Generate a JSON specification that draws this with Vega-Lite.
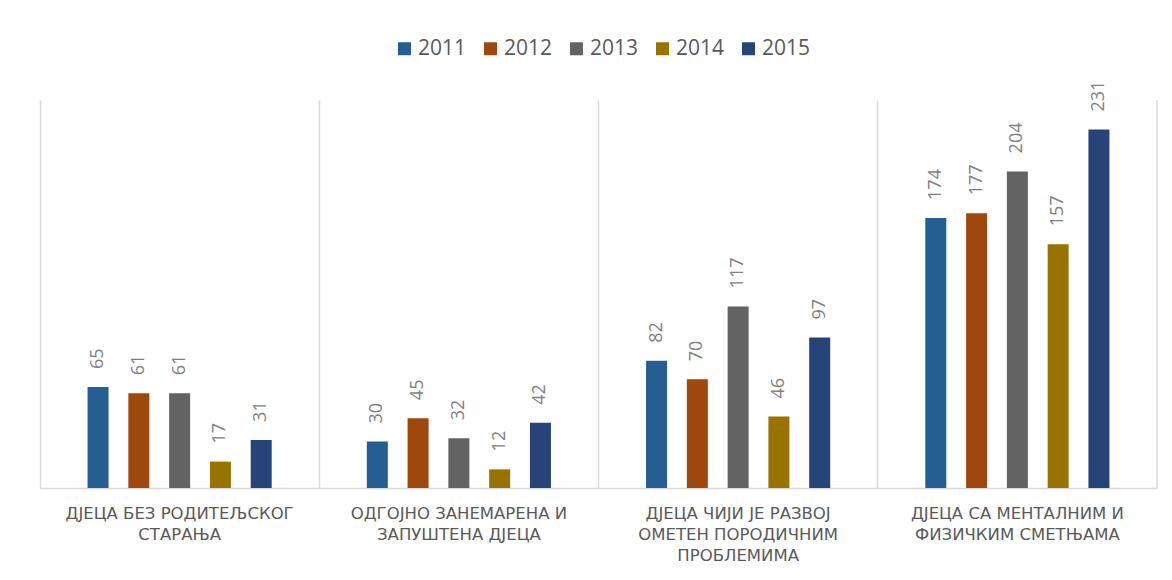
{
  "$schema": "https://vega.github.io/schema/vega-lite/v6.json",
  "width": 1117,
  "height": 388,
  "autosize": {"type": "none"},
  "padding": {"left": 40, "top": 100, "right": 15, "bottom": 92},
  "background": "white",
  "config": {
    "view": {"stroke": null},
    "font": "Open Sans"
  },
  "data": {
    "values": [
      {"cat": "ДЈЕЦА БЕЗ РОДИТЕЉСКОГ СТАРАЊА", "year": "2011", "value": 65},
      {"cat": "ДЈЕЦА БЕЗ РОДИТЕЉСКОГ СТАРАЊА", "year": "2012", "value": 61},
      {"cat": "ДЈЕЦА БЕЗ РОДИТЕЉСКОГ СТАРАЊА", "year": "2013", "value": 61},
      {"cat": "ДЈЕЦА БЕЗ РОДИТЕЉСКОГ СТАРАЊА", "year": "2014", "value": 17},
      {"cat": "ДЈЕЦА БЕЗ РОДИТЕЉСКОГ СТАРАЊА", "year": "2015", "value": 31},
      {"cat": "ОДГОЈНО ЗАНЕМАРЕНА И ЗАПУШТЕНА ДЈЕЦА", "year": "2011", "value": 30},
      {"cat": "ОДГОЈНО ЗАНЕМАРЕНА И ЗАПУШТЕНА ДЈЕЦА", "year": "2012", "value": 45},
      {"cat": "ОДГОЈНО ЗАНЕМАРЕНА И ЗАПУШТЕНА ДЈЕЦА", "year": "2013", "value": 32},
      {"cat": "ОДГОЈНО ЗАНЕМАРЕНА И ЗАПУШТЕНА ДЈЕЦА", "year": "2014", "value": 12},
      {"cat": "ОДГОЈНО ЗАНЕМАРЕНА И ЗАПУШТЕНА ДЈЕЦА", "year": "2015", "value": 42},
      {"cat": "ДЈЕЦА ЧИЈИ ЈЕ РАЗВОЈ ОМЕТЕН ПОРОДИЧНИМ ПРОБЛЕМИМА", "year": "2011", "value": 82},
      {"cat": "ДЈЕЦА ЧИЈИ ЈЕ РАЗВОЈ ОМЕТЕН ПОРОДИЧНИМ ПРОБЛЕМИМА", "year": "2012", "value": 70},
      {"cat": "ДЈЕЦА ЧИЈИ ЈЕ РАЗВОЈ ОМЕТЕН ПОРОДИЧНИМ ПРОБЛЕМИМА", "year": "2013", "value": 117},
      {"cat": "ДЈЕЦА ЧИЈИ ЈЕ РАЗВОЈ ОМЕТЕН ПОРОДИЧНИМ ПРОБЛЕМИМА", "year": "2014", "value": 46},
      {"cat": "ДЈЕЦА ЧИЈИ ЈЕ РАЗВОЈ ОМЕТЕН ПОРОДИЧНИМ ПРОБЛЕМИМА", "year": "2015", "value": 97},
      {"cat": "ДЈЕЦА СА МЕНТАЛНИМ И ФИЗИЧКИМ СМЕТЊАМА", "year": "2011", "value": 174},
      {"cat": "ДЈЕЦА СА МЕНТАЛНИМ И ФИЗИЧКИМ СМЕТЊАМА", "year": "2012", "value": 177},
      {"cat": "ДЈЕЦА СА МЕНТАЛНИМ И ФИЗИЧКИМ СМЕТЊАМА", "year": "2013", "value": 204},
      {"cat": "ДЈЕЦА СА МЕНТАЛНИМ И ФИЗИЧКИМ СМЕТЊАМА", "year": "2014", "value": 157},
      {"cat": "ДЈЕЦА СА МЕНТАЛНИМ И ФИЗИЧКИМ СМЕТЊАМА", "year": "2015", "value": 231}
    ]
  },
  "encoding": {
    "x": {
      "field": "cat",
      "type": "nominal",
      "sort": null,
      "title": null,
      "scale": {
        "domain": [
          "ДЈЕЦА БЕЗ РОДИТЕЉСКОГ СТАРАЊА",
          "ОДГОЈНО ЗАНЕМАРЕНА И ЗАПУШТЕНА ДЈЕЦА",
          "ДЈЕЦА ЧИЈИ ЈЕ РАЗВОЈ ОМЕТЕН ПОРОДИЧНИМ ПРОБЛЕМИМА",
          "ДЈЕЦА СА МЕНТАЛНИМ И ФИЗИЧКИМ СМЕТЊАМА"
        ],
        "paddingInner": 0,
        "paddingOuter": 0
      },
      "axis": {
        "labelAngle": 0,
        "labelFont": "DejaVu Sans",
        "labelFontSize": 16.5,
        "labelColor": "#595959",
        "labelLineHeight": 21,
        "labelPadding": 17,
        "labelBaseline": "top",
        "labelLimit": 0,
        "ticks": false,
        "domainColor": "#d9d9d9",
        "domainWidth": 1.5,
        "grid": true,
        "gridColor": "#d9d9d9",
        "gridWidth": 1.5,
        "bandPosition": 0,
        "labelExpr": "datum.value == 'ДЈЕЦА БЕЗ РОДИТЕЉСКОГ СТАРАЊА' ? ['ДЈЕЦА БЕЗ РОДИТЕЉСКОГ', 'СТАРАЊА'] : datum.value == 'ОДГОЈНО ЗАНЕМАРЕНА И ЗАПУШТЕНА ДЈЕЦА' ? ['ОДГОЈНО ЗАНЕМАРЕНА И', 'ЗАПУШТЕНА ДЈЕЦА'] : datum.value == 'ДЈЕЦА ЧИЈИ ЈЕ РАЗВОЈ ОМЕТЕН ПОРОДИЧНИМ ПРОБЛЕМИМА' ? ['ДЈЕЦА ЧИЈИ ЈЕ РАЗВОЈ', 'ОМЕТЕН ПОРОДИЧНИМ', 'ПРОБЛЕМИМА'] : ['ДЈЕЦА СА МЕНТАЛНИМ И', 'ФИЗИЧКИМ СМЕТЊАМА']"
      }
    },
    "xOffset": {
      "field": "year",
      "type": "nominal",
      "scale": {"paddingInner": 0.153, "paddingOuter": 1}
    }
  },
  "layer": [
    {
      "mark": {"type": "bar", "width": 21},
      "encoding": {
        "y": {
          "field": "value",
          "type": "quantitative",
          "scale": {"domain": [0, 250], "nice": false},
          "axis": null
        },
        "color": {
          "field": "year",
          "type": "nominal",
          "title": null,
          "scale": {
            "domain": ["2011", "2012", "2013", "2014", "2015"],
            "range": ["#255E91", "#9E480E", "#636363", "#997300", "#264478"]
          },
          "legend": {
            "orient": "none",
            "direction": "horizontal",
            "legendX": 354,
            "legendY": -62,
            "symbolType": "square",
            "symbolSize": 169,
            "symbolStrokeWidth": 0,
            "labelFontSize": 21,
            "labelColor": "#595959",
            "labelOffset": 3,
            "columnPadding": 13
          }
        }
      }
    },
    {
      "mark": {
        "type": "text",
        "angle": -90,
        "align": "left",
        "baseline": "middle",
        "dx": 18,
        "fontSize": 18,
        "color": "#7f7f7f"
      },
      "encoding": {
        "y": {"field": "value", "type": "quantitative"},
        "text": {"field": "value", "type": "quantitative"}
      }
    },
    {
      "data": {"values": [{"cat": "ДЈЕЦА СА МЕНТАЛНИМ И ФИЗИЧКИМ СМЕТЊАМА"}]},
      "mark": {"type": "rule", "color": "#d9d9d9", "strokeWidth": 1.5},
      "encoding": {
        "x": {"field": "cat", "type": "nominal", "sort": null, "bandPosition": 1},
        "xOffset": null
      }
    }
  ]
}
